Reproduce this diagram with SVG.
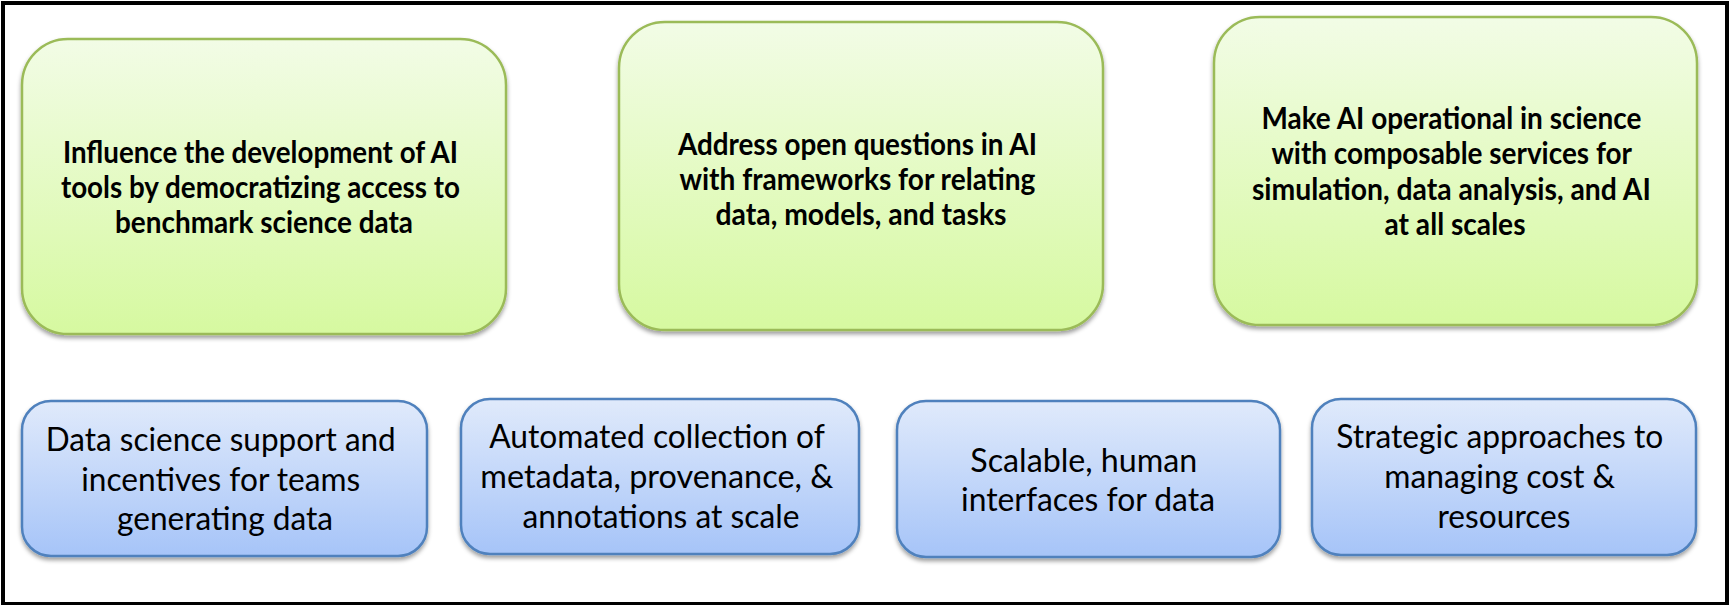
<svg xmlns="http://www.w3.org/2000/svg" width="1729" height="605" viewBox="0 0 1729 605">
  <defs>
    <linearGradient id="gradGreen" x1="0" y1="0" x2="0" y2="1">
      <stop offset="0" stop-color="#f2fce6"/>
      <stop offset="1" stop-color="#d6f9a0"/>
    </linearGradient>
    <linearGradient id="gradBlue" x1="0" y1="0" x2="0" y2="1">
      <stop offset="0" stop-color="#e0eafb"/>
      <stop offset="1" stop-color="#a6c4f8"/>
    </linearGradient>
    <filter id="shadow" x="-5%" y="-5%" width="110%" height="115%">
      <feDropShadow dx="0" dy="3" stdDeviation="2.2" flood-color="#000" flood-opacity="0.38"/>
    </filter>
  </defs>
  <style>
    .goal { fill: url(#gradGreen); stroke: #9bbb59; stroke-width: 2.5; filter: url(#shadow); }
    .need { fill: url(#gradBlue); stroke: #4f81bd; stroke-width: 2.5; filter: url(#shadow); }
    .goal-text { font-family: Lato, "Open Sans", sans-serif; font-weight: bold; font-size: 29.5px; fill: #000; text-anchor: middle; }
    .need-text { font-family: Lato, "Open Sans", sans-serif; font-size: 33px; fill: #000; text-anchor: middle; }
  </style>

  <rect x="0" y="0" width="1729" height="605" fill="#ffffff"/>
  <!-- outer frame -->
  <rect x="3" y="3" width="1724" height="601" fill="none" stroke="#000" stroke-width="4"/>

  <g id="connectors"/>

  <!-- top row: goals -->
  <g id="goal-benchmark-data">
    <rect class="goal" x="22" y="39" width="484" height="295" rx="46" ry="46"/>
    <text class="goal-text">
      <tspan x="264" y="163" textLength="395" lengthAdjust="spacingAndGlyphs">Influence the development of AI</tspan>
      <tspan x="264" y="198" textLength="399" lengthAdjust="spacingAndGlyphs">tools by democratizing access to</tspan>
      <tspan x="264" y="233" textLength="298" lengthAdjust="spacingAndGlyphs">benchmark science data</tspan>
    </text>
  </g>

  <g id="goal-frameworks">
    <rect class="goal" x="619" y="22" width="484" height="308" rx="46" ry="46"/>
    <text class="goal-text">
      <tspan x="861" y="155" textLength="359" lengthAdjust="spacingAndGlyphs">Address open questions in AI</tspan>
      <tspan x="861" y="190" textLength="356" lengthAdjust="spacingAndGlyphs">with frameworks for relating</tspan>
      <tspan x="861" y="225" textLength="291" lengthAdjust="spacingAndGlyphs">data, models, and tasks</tspan>
    </text>
  </g>

  <g id="goal-operational-ai">
    <rect class="goal" x="1214" y="17" width="483" height="308" rx="46" ry="46"/>
    <text class="goal-text">
      <tspan x="1455" y="129" textLength="380" lengthAdjust="spacingAndGlyphs">Make AI operational in science</tspan>
      <tspan x="1455" y="164" textLength="360" lengthAdjust="spacingAndGlyphs">with composable services for</tspan>
      <tspan x="1455" y="200" textLength="399" lengthAdjust="spacingAndGlyphs">simulation, data analysis, and AI</tspan>
      <tspan x="1455" y="235" textLength="141" lengthAdjust="spacingAndGlyphs">at all scales</tspan>
    </text>
  </g>

  <!-- bottom row: needs -->
  <g id="need-data-science-support">
    <rect class="need" x="22" y="401" width="405" height="155" rx="29" ry="29"/>
    <text class="need-text">
      <tspan x="225" y="451" textLength="350" lengthAdjust="spacingAndGlyphs">Data science support and</tspan>
      <tspan x="225" y="491" textLength="279" lengthAdjust="spacingAndGlyphs">incentives for teams</tspan>
      <tspan x="225" y="530" textLength="216" lengthAdjust="spacingAndGlyphs">generating data</tspan>
    </text>
  </g>

  <g id="need-metadata-collection">
    <rect class="need" x="461" y="399" width="398" height="155" rx="29" ry="29"/>
    <text class="need-text">
      <tspan x="661" y="448" textLength="335" lengthAdjust="spacingAndGlyphs">Automated collection of</tspan>
      <tspan x="661" y="488" textLength="353" lengthAdjust="spacingAndGlyphs">metadata, provenance, &amp;</tspan>
      <tspan x="661" y="528" textLength="277" lengthAdjust="spacingAndGlyphs">annotations at scale</tspan>
    </text>
  </g>

  <g id="need-human-interfaces">
    <rect class="need" x="897" y="401" width="383" height="156" rx="29" ry="29"/>
    <text class="need-text">
      <tspan x="1088" y="472" textLength="227" lengthAdjust="spacingAndGlyphs">Scalable, human</tspan>
      <tspan x="1088" y="511" textLength="254" lengthAdjust="spacingAndGlyphs">interfaces for data</tspan>
    </text>
  </g>

  <g id="need-cost-resources">
    <rect class="need" x="1312" y="399" width="384" height="156" rx="29" ry="29"/>
    <text class="need-text">
      <tspan x="1504" y="448" textLength="327" lengthAdjust="spacingAndGlyphs">Strategic approaches to</tspan>
      <tspan x="1504" y="488" textLength="231" lengthAdjust="spacingAndGlyphs">managing cost &amp;</tspan>
      <tspan x="1504" y="528" textLength="133" lengthAdjust="spacingAndGlyphs">resources</tspan>
    </text>
  </g>
</svg>
